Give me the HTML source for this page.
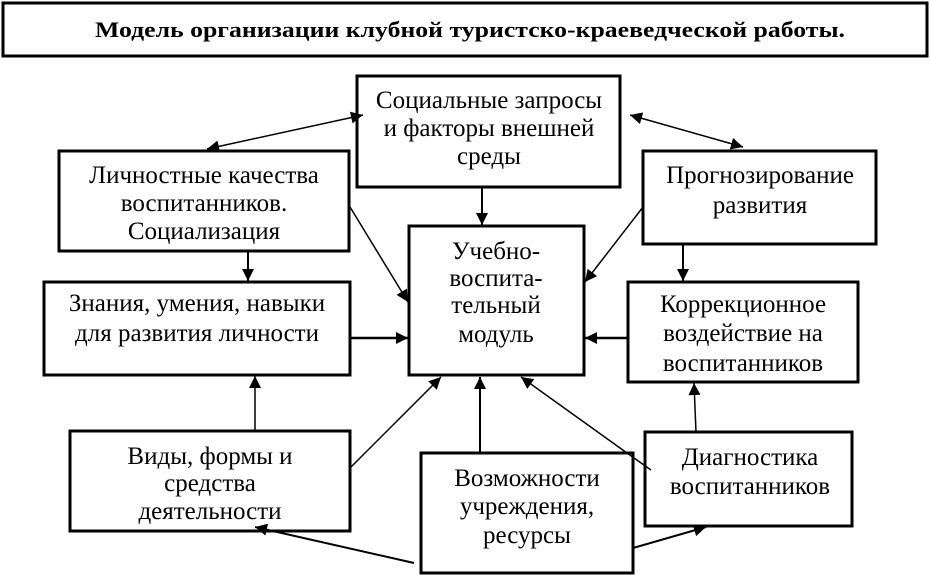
<!DOCTYPE html>
<html><head><meta charset="utf-8"><style>
html,body{margin:0;padding:0;background:#fff}
svg{display:block}
text{font-family:"Liberation Serif",serif;font-size:25px;fill:#000}
</style></head><body>
<svg width="931" height="575" viewBox="0 0 931 575" xmlns="http://www.w3.org/2000/svg">
<defs>
<marker id="a" viewBox="0 0 10 10" refX="10" refY="5" markerWidth="14" markerHeight="12" markerUnits="userSpaceOnUse" orient="auto-start-reverse">
<path d="M0,0 L10,5 L0,10 z" fill="#000"/></marker>
</defs>
<g fill="none" stroke="#000" stroke-width="3">
<rect x="3" y="3" width="924" height="53"/>
<rect x="357" y="76" width="263" height="111"/>
<rect x="59" y="151" width="290" height="100"/>
<rect x="44" y="282" width="306" height="93"/>
<rect x="409" y="226" width="175" height="149"/>
<rect x="643" y="151" width="233" height="93"/>
<rect x="628" y="282" width="230" height="100"/>
<rect x="70" y="431" width="280" height="100"/>
<rect x="421" y="453" width="212" height="120"/>
<rect x="645" y="432" width="207" height="94"/>
</g>
<g stroke="#000" stroke-width="1.5" fill="none">
<line x1="207" y1="149" x2="363" y2="115" marker-start="url(#a)" marker-end="url(#a)"/>
<line x1="630" y1="115" x2="743" y2="147" marker-start="url(#a)" marker-end="url(#a)"/>
<line x1="482" y1="188" x2="482" y2="225" stroke-width="2" marker-end="url(#a)"/>
<line x1="350" y1="207" x2="408" y2="302" marker-end="url(#a)"/>
<line x1="248" y1="251" x2="248" y2="281" stroke-width="2" marker-end="url(#a)"/>
<line x1="350" y1="338" x2="408" y2="338" stroke-width="2.5" marker-end="url(#a)"/>
<line x1="643" y1="207" x2="585" y2="282" marker-end="url(#a)"/>
<line x1="683" y1="244" x2="683" y2="281" stroke-width="2" marker-end="url(#a)"/>
<line x1="628" y1="338" x2="585" y2="338" stroke-width="2.5" marker-end="url(#a)"/>
<line x1="255" y1="431" x2="255" y2="376" marker-end="url(#a)"/>
<line x1="350" y1="468" x2="441" y2="377" marker-end="url(#a)"/>
<line x1="480" y1="453" x2="480" y2="377" stroke-width="2" marker-end="url(#a)"/>
<polyline points="651,470 627,453 521,377" marker-end="url(#a)"/>
<line x1="696" y1="432" x2="694" y2="383" marker-end="url(#a)"/>
<line x1="414" y1="563" x2="255" y2="527" stroke-width="2" marker-end="url(#a)"/>
<line x1="633" y1="548" x2="706" y2="527" stroke-width="2" marker-end="url(#a)"/>
</g>
<text x="95" y="37" style="font-size:22px;font-weight:bold" textLength="750" lengthAdjust="spacingAndGlyphs">Модель организации  клубной  туристско-краеведческой работы.</text>
<g text-anchor="middle">
<text x="489" y="108">Социальные запросы</text>
<text x="489" y="136">и факторы внешней</text>
<text x="489" y="164">среды</text>
<text x="204" y="183">Личностные качества</text>
<text x="204" y="211">воспитанников.</text>
<text x="204" y="239">Социализация</text>
<text x="197" y="311">Знания, умения, навыки</text>
<text x="197" y="341">для развития личности</text>
<text x="496" y="259">Учебно-</text>
<text x="496" y="286">воспита-</text>
<text x="496" y="313">тельный</text>
<text x="496" y="342">модуль</text>
<text x="760" y="183">Прогнозирование</text>
<text x="760" y="213">развития</text>
<text x="743" y="312">Коррекционное</text>
<text x="743" y="341">воздействие на</text>
<text x="743" y="371">воспитанников</text>
<text x="210" y="464">Виды, формы и</text>
<text x="210" y="491">средства</text>
<text x="210" y="519">деятельности</text>
<text x="527" y="486">Возможности</text>
<text x="527" y="514">учреждения,</text>
<text x="527" y="543">ресурсы</text>
<text x="750" y="465">Диагностика</text>
<text x="750" y="494">воспитанников</text>
</g>
</svg>
</body></html>
